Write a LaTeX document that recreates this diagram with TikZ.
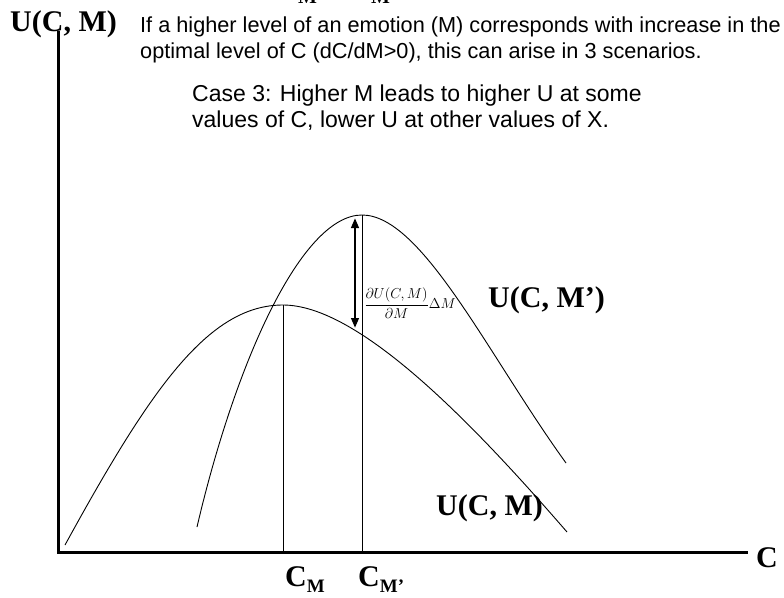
\documentclass[tikz,border=0pt]{standalone}
\usepackage{fontspec}
\setmainfont{Liberation Serif}
\setsansfont{Liberation Sans}
\usetikzlibrary{arrows.meta}
\newcommand\subsM[1]{\raisebox{-6.5pt}{\fontsize{19}{19}\selectfont\bfseries #1}}
\begin{document}
\begin{tikzpicture}[x=1pt,y=-1pt,
  crv/.style={line width=0.9pt},
  axisline/.style={line width=3pt, line join=miter},
  vline/.style={line width=1pt, dash pattern=on 2.5pt off 0.5pt},
  bigl/.style={font=\fontsize{30}{30}\selectfont\bfseries, inner sep=0pt, anchor=base west},
  cutl/.style={font=\fontsize{20}{20}\selectfont\bfseries, inner sep=0pt, anchor=base west},
  txt/.style={font=\sffamily\fontsize{21.7}{21.7}\selectfont, inner sep=0pt, anchor=base west},
  ctxt/.style={font=\sffamily\fontsize{23}{23}\selectfont, inner sep=0pt, anchor=base west},
  dbl/.style={line width=2.5pt, {Triangle[length=10pt,width=7.5pt]}-{Triangle[length=10pt,width=7.5pt]}}]
\useasboundingbox (0,0) rectangle (784,597);

% axes
\coordinate (ytop) at (58,31);
\coordinate (orig) at (58,552.5);
\coordinate (xend) at (748,552.5);
\draw[axisline] (ytop) -- (orig) -- (xend);

% curve U(C,M)
\coordinate (m0) at (65,545);
\coordinate (mpk) at (283,305);
\coordinate (m1) at (567,532);
\draw[crv] (m0) .. controls (150,390) and (208,305) .. (mpk)
               .. controls (358,305) and (470,420) .. (m1);

% curve U(C,M')
\coordinate (p0) at (197,527);
\coordinate (ppk) at (362,215);
\coordinate (p1) at (566,463);
\draw[crv] (p0) .. controls (236,360) and (302,215) .. (ppk)
               .. controls (422,215) and (488,355) .. (p1);

% vertical lines
\coordinate (cmb) at (283,552.5);
\coordinate (cpb) at (362,552.5);
\draw[vline] (mpk) -- (cmb);
\draw[vline] (ppk) -- (cpb);

% double arrow
\coordinate (at) at (355,218);
\coordinate (ab) at (355,328);
\draw[dbl] (at) -- (ab);

% derivative label
\node[inner sep=0pt, font=\fontsize{14.5}{14.5}\selectfont] (frac) at (410,303)
  {$\displaystyle\frac{\partial U(C,M)}{\partial M}\Delta M$};

% labels
\node[bigl] (ylab) at (10,31) {U(C, M)};
\node[bigl] (xlab) at (756,567) {C};
\node[bigl] (lmp) at (488,307) {U(C, M’)};
\node[bigl] (lm) at (436,515) {U(C, M)};
\node[bigl] (cm) at (285,586) {C\subsM{M}};
\node[bigl] (cmp) at (358,586) {C\subsM{M’}};

% cut-off letters at the top edge
\node[cutl] (cut1) at (298,4) {M};
\node[cutl] (cut2) at (371,4) {M};

% texts
\node[txt] (t1) at (140,32) {If a higher level of an emotion (M) corresponds with increase in the};
\node[txt] (t2) at (140,58) {optimal level of C (dC/dM>0), this can arise in 3 scenarios.};
\node[ctxt] (c1) at (192,101) {Case 3: Higher M leads to higher U at some};
\node[ctxt] (c2) at (192,127) {values of C, lower U at other values of X.};
\end{tikzpicture}
\end{document}
